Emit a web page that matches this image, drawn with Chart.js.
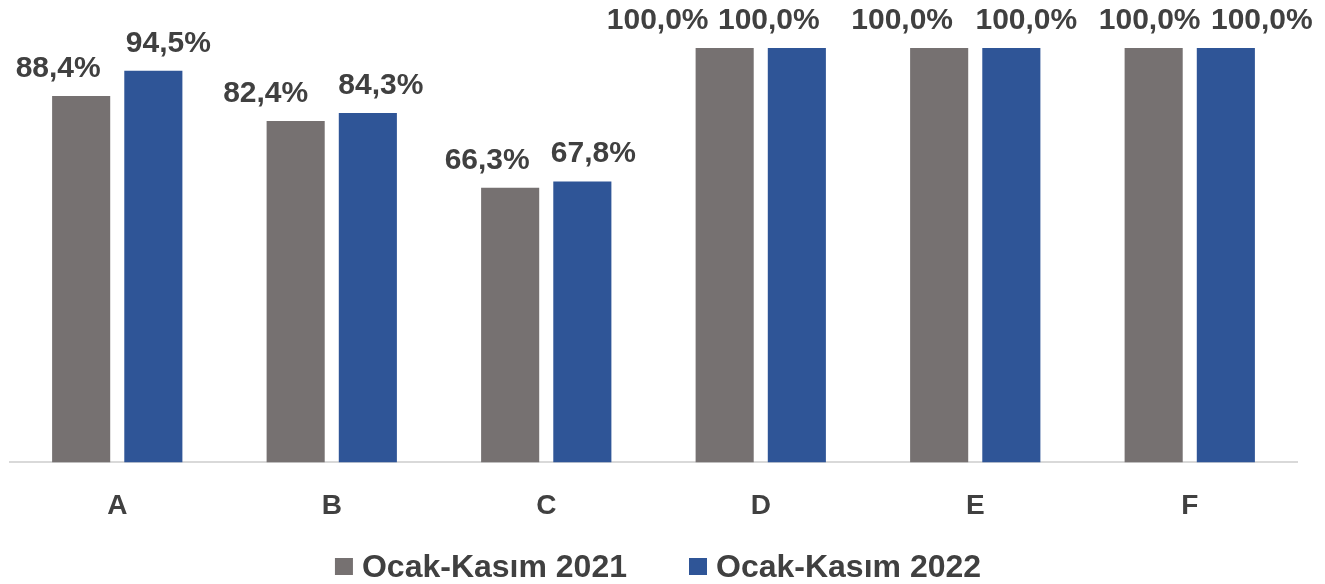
<!DOCTYPE html>
<html>
<head>
<meta charset="utf-8">
<script src="https://cdn.jsdelivr.net/npm/chart.js@4"></script>
<style>
  html, body { margin: 0; padding: 0; background: #fff; }
  #wrap { width: 1325px; height: 584px; }
</style>
</head>
<body>
<div id="wrap"><canvas id="chart" width="1325" height="584"></canvas></div>
<script>
// data
const categories = ['A', 'B', 'C', 'D', 'E', 'F'];
const series2021 = [88.4, 82.4, 66.3, 100.0, 100.0, 100.0];
const series2022 = [94.5, 84.3, 67.8, 100.0, 100.0, 100.0];
const seriesNames = ['Ocak-Kasım 2021', 'Ocak-Kasım 2022'];
const seriesColors = ['#767171', '#2F5597'];

// horizontal nudge of each value label (px), as placed in the original
const labelShift = [
  [-23, -30, -23, -67, -37, -4],
  [15, 13, 11, -28, 15, 36]
];

const fontFamily = '"Liberation Sans", Arial, sans-serif';
const textColor = '#404040';

// value above each bar (no datalabels plugin available)
const valueLabels = {
  id: 'valueLabels',
  afterDatasetsDraw(chart) {
    const ctx = chart.ctx;
    ctx.save();
    ctx.font = 'bold 30px ' + fontFamily;
    ctx.fillStyle = textColor;
    ctx.textAlign = 'center';
    ctx.textBaseline = 'alphabetic';
    chart.data.datasets.forEach((ds, i) => {
      const meta = chart.getDatasetMeta(i);
      meta.data.forEach((bar, j) => {
        const txt = ds.data[j].toFixed(1).replace('.', ',') + '%';
        ctx.fillText(txt, bar.x + labelShift[i][j], bar.y - 19);
      });
    });
    ctx.restore();
  }
};

// legend drawn at the bottom, square markers
const bottomLegend = {
  id: 'bottomLegend',
  afterDraw(chart) {
    const ctx = chart.ctx;
    ctx.save();
    ctx.font = 'bold 32px ' + fontFamily;
    ctx.textBaseline = 'alphabetic';
    ctx.textAlign = 'left';
    const box = 18, gap = 9, spacing = 62;
    const widths = chart.data.datasets.map(ds => ctx.measureText(ds.label).width);
    let total = 0;
    widths.forEach((w, i) => { total += box + gap + w + (i ? spacing : 0); });
    let x = 658 - total / 2;
    const baseY = 577;
    chart.data.datasets.forEach((ds, i) => {
      ctx.fillStyle = ds.backgroundColor;
      ctx.fillRect(x, 558, box, 17);
      ctx.fillStyle = textColor;
      ctx.fillText(ds.label, x + box + gap, baseY);
      x += box + gap + widths[i] + spacing;
    });
    ctx.restore();
  }
};

new Chart(document.getElementById('chart'), {
  type: 'bar',
  data: {
    labels: categories,
    datasets: [
      {
        label: seriesNames[0],
        data: series2021,
        backgroundColor: seriesColors[0],
        categoryPercentage: 0.673,
        barPercentage: 0.805
      },
      {
        label: seriesNames[1],
        data: series2022,
        backgroundColor: seriesColors[1],
        categoryPercentage: 0.673,
        barPercentage: 0.805
      }
    ]
  },
  options: {
    responsive: false,
    animation: false,
    layout: { padding: { top: 48, left: 10, right: 28, bottom: 34 } },
    plugins: {
      legend: { display: false },
      tooltip: { enabled: false }
    },
    scales: {
      x: {
        grid: { display: false, drawTicks: false },
        border: { color: '#d9d9d9', width: 2 },
        ticks: {
          color: textColor,
          font: { family: fontFamily, size: 28, weight: 'bold' },
          padding: 27
        }
      },
      y: {
        display: false,
        min: 0,
        max: 100
      }
    }
  },
  plugins: [valueLabels, bottomLegend]
});
</script>
</body>
</html>
